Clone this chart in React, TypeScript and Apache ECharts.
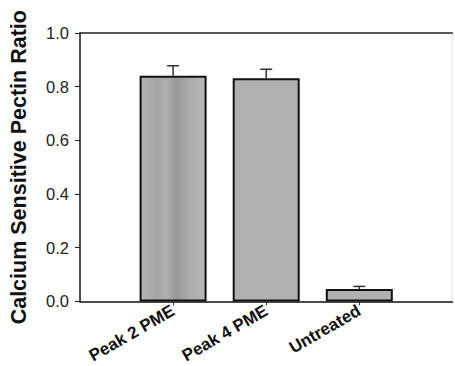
import React, { useEffect, useRef } from "react";
import * as echarts from "echarts";

const categories = ["Peak 2 PME", "Peak 4 PME", "Untreated"];
const values = [0.841, 0.831, 0.046];
const errors = [0.037, 0.034, 0.01];
const yTicks = [0, 0.2, 0.4, 0.6, 0.8, 1.0];

export default function App() {
  const ref = useRef<HTMLDivElement>(null);
  useEffect(() => {
    if (!ref.current) return;
    const chart = echarts.init(ref.current, null, { renderer: "svg" });
    const axisData = ["", ...categories, ""];
    const barData: any[] = [null];
    values.forEach((v, i) => {
      const item: any = { value: v };
      if (i === 0) {
        item.itemStyle = {
          color: {
            type: "linear", x: 0, y: 0, x2: 1, y2: 0,
            colorStops: [
              { offset: 0, color: "#b6b6b6" },
              { offset: 0.25, color: "#a4a4a4" },
              { offset: 0.4, color: "#afafaf" },
              { offset: 0.55, color: "#979797" },
              { offset: 0.75, color: "#acacac" },
              { offset: 1, color: "#b8b8b8" },
            ],
          },
        };
      }
      barData.push(item);
    });
    barData.push(null);
    const errData = values.map((v, i) => [i + 1, v, v + errors[i]]);
    chart.setOption({
      animation: false,
      grid: { left: 76, top: 33, bottom: 64, right: -3, containLabel: false },
      xAxis: [
        {
          type: "category",
          data: axisData,
          boundaryGap: false,
          axisLine: { show: true, lineStyle: { color: "#111", width: 1.5 } },
          axisTick: {
            show: true,
            length: 4,
            inside: false,
            interval: (i: number) => i >= 1 && i <= categories.length,
            lineStyle: { color: "#333" },
          },
          axisLabel: {
            interval: 0,
            rotate: 30,
            margin: 8,
            fontFamily: "Liberation Sans, Arial, sans-serif",
            fontWeight: "bold",
            fontSize: 17,
            color: "#111",
          },
          splitLine: { show: false },
        },
        {
          type: "category",
          position: "top",
          data: axisData,
          boundaryGap: false,
          axisLine: { show: true, lineStyle: { color: "#222", width: 1.5 } },
          axisTick: { show: false },
          axisLabel: { show: false },
        },
      ],
      yAxis: {
        type: "value",
        min: 0,
        max: 1,
        interval: 0.2,
        name: "Calcium Sensitive Pectin Ratio",
        nameLocation: "middle",
        nameGap: 50,
        nameTextStyle: {
          fontFamily: "Liberation Sans, Arial, sans-serif",
          fontWeight: "bold",
          fontSize: 21.5,
          color: "#111",
        },
        axisLine: { show: true, lineStyle: { color: "#111", width: 1.5 } },
        axisTick: { show: true, length: 5, inside: false, lineStyle: { color: "#222" } },
        axisLabel: {
          margin: 11,
          fontFamily: "Liberation Sans, Arial, sans-serif",
          fontSize: 16.5,
          color: "#222",
          formatter: (v: number) => (yTicks.includes(Math.round(v * 10) / 10) ? v.toFixed(1) : ""),
        },
        splitLine: { show: false },
      },
      graphic: [
        {
          type: "line",
          shape: { x1: 452, y1: 34, x2: 452, y2: 301 },
          style: { stroke: "#e2e2e2", lineWidth: 1 },
          silent: true,
        },
      ],
      series: [
        {
          type: "bar",
          data: barData,
          barWidth: 67,
          itemStyle: { color: "#b0b0b0", borderColor: "#111", borderWidth: 2 },
        },
        {
          type: "custom",
          data: errData,
          z: 5,
          renderItem: (params: any, api: any) => {
            const x = api.value(0);
            const base = api.coord([x, api.value(1)]);
            const top = api.coord([x, api.value(2)]);
            const half = 6;
            return {
              type: "group",
              children: [
                {
                  type: "line",
                  shape: { x1: base[0], y1: base[1], x2: top[0], y2: top[1] },
                  style: { stroke: "#333", lineWidth: 1.5 },
                },
                {
                  type: "line",
                  shape: { x1: top[0] - half, y1: top[1], x2: top[0] + half, y2: top[1] },
                  style: { stroke: "#333", lineWidth: 1.5 },
                },
              ],
            };
          },
        },
      ],
    });
    return () => chart.dispose();
  }, []);
  return (
    <div
      ref={ref}
      style={{ position: "absolute", left: 0, top: 0, width: 455, height: 366, background: "#fff" }}
    />
  );
}
